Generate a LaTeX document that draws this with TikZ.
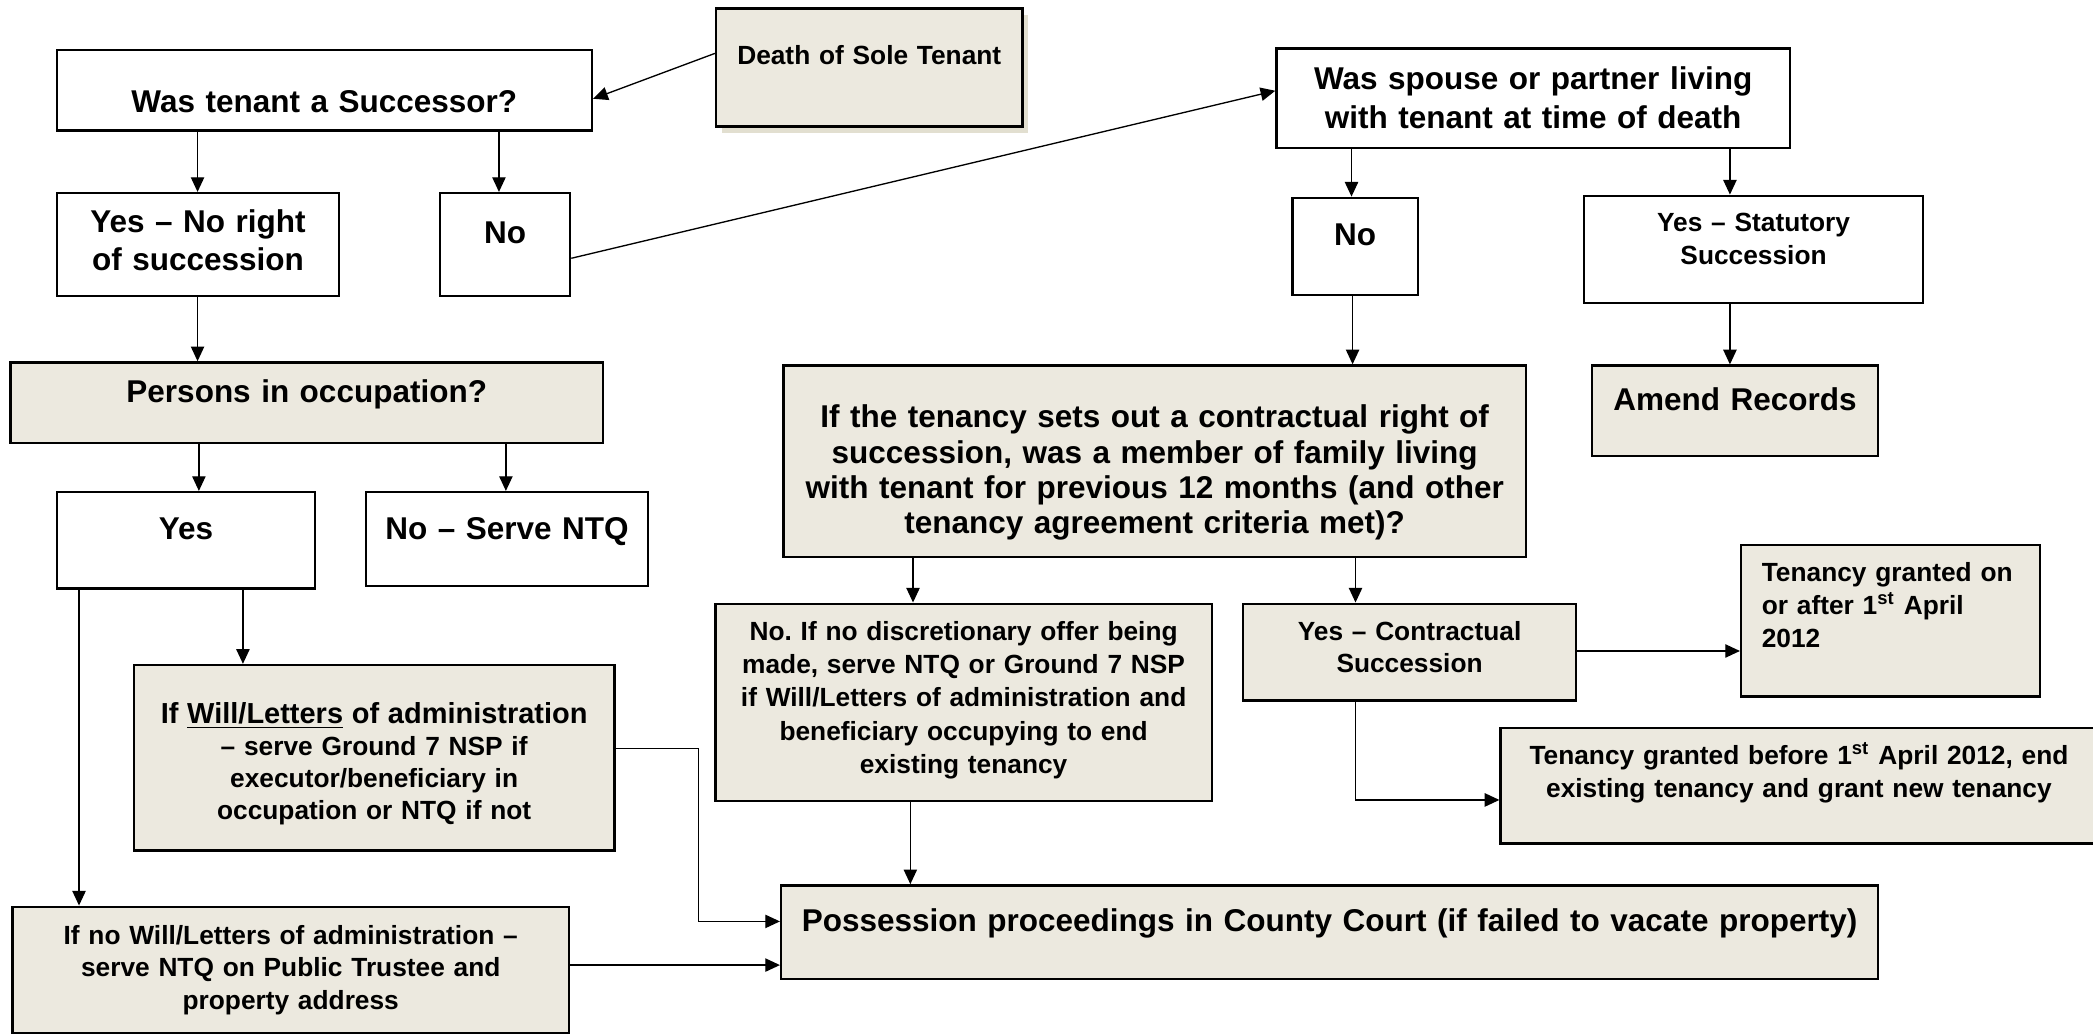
\documentclass[tikz,border=0pt]{standalone}
\usepackage{fontspec}
\setmainfont{Liberation Sans}
\usetikzlibrary{arrows.meta,shadows}
\definecolor{boxfill}{RGB}{236,233,223}
\definecolor{shadowfill}{RGB}{226,223,208}
\frenchspacing

\begin{document}
\begin{tikzpicture}[x=0.5pt, y=-0.5pt,
	box/.style={draw, rectangle, line width=0.9pt, anchor=north west, inner xsep=2pt, inner ysep=0pt, align=center},
	greybox/.style={box, fill=boxfill},
	bigtext/.style={font=\bfseries\fontsize{11.8}{14.5}\selectfont},
	smalltext/.style={font=\bfseries\fontsize{9.85}{12.4}\selectfont},
	arr/.style={->, >={Triangle[length=5.5pt, width=5pt]}, line width=0.5pt}]
				\useasboundingbox (0,0) rectangle (1568,774);
				% top row
				\node[greybox, smalltext, drop shadow={shadow xshift=2.3pt, shadow yshift=-2.3pt, fill=shadowfill, opacity=1}, text width=110.7pt, text height=21pt, text depth=23.25pt] (death)at(535.6, 5.5) {Death of Sole Tenant};
				\node[box, bigtext, text width=196.5pt, text height=23.5pt, text depth=6.6pt] (succ)at(41.6, 36.7) {Was tenant a Successor?};
				\node[box, text width=101.5pt, text height=14.85pt, text depth=23.75pt, font=\bfseries\fontsize{11.8}{14.15}\selectfont] (yesright)at(42, 143.8) {Yes – No right\\of succession};
				\node[box, bigtext, text width=44.7pt, text height=18.85pt, text depth=19.75pt] (no1)at(328.8, 143.8) {No};
				\node[box, text width=188.3pt, text height=15.35pt, text depth=21.9pt, font=\bfseries\fontsize{11.8}{14.7}\selectfont] (spouse)at(955.4, 35.5) {Was spouse or partner living\\with tenant at time of death};
				\node[box, bigtext, text width=42.9pt, text height=17.85pt, text depth=18.6pt] (no2)at(967.4, 147.3) {No};
				\node[box, text width=123pt, text height=13.25pt, text depth=26.85pt, font=\bfseries\fontsize{9.85}{12.5}\selectfont] (yesstat)at(1185.8, 145.8) {Yes – Statutory\\Succession};
				\node[greybox, bigtext, text width=103.1pt, text height=16.8pt, text depth=17.1pt] (amend)at(1191.8, 273) {Amend Records};
				% middle
				\node[greybox, text width=274.15pt, text height=23.35pt, text depth=48.45pt, font=\bfseries\fontsize{11.8}{13.2}\selectfont] (contract)at(586, 272.9) {If the tenancy sets out a contractual right of\\succession, was a member of family living\\with tenant for previous 12 months (and other\\tenancy agreement criteria met)?};
				\node[greybox, bigtext, text width=218pt, text height=15.2pt, text depth=15pt] (persons)at(6.9, 270.6) {Persons in occupation?};
				\node[box, bigtext, text width=92.5pt, text height=17.9pt, text depth=18.2pt] (yes)at(42, 367.8) {Yes};
				\node[box, bigtext, text width=101.65pt, text height=17.9pt, text depth=17.2pt] (noserve)at(273.3, 367.8) {No – Serve NTQ};
				\node[greybox, font=\bfseries\fontsize{9.85}{12}\selectfont, text width=176pt, text height=21.85pt, text depth=47.65pt] (ifwill)at(99.4, 497.3) {{\fontsize{10.85}{12}\selectfont If \underline{Will/Letters} of administration}\\– serve Ground 7 NSP if\\executor/beneficiary in\\occupation or NTQ if not};
				\node[greybox, font=\bfseries\fontsize{9.85}{12.15}\selectfont, text width=204.5pt, text height=14.05pt, text depth=33.25pt] (ifnowill)at(8.4, 678.4) {If no Will/Letters of administration –\\serve NTQ on Public Trustee and\\property address};
				\node[greybox, text width=182pt, text height=13.65pt, text depth=60.15pt, font=\bfseries\fontsize{9.85}{12.5}\selectfont] (nodisc)at(535, 451.4) {No. If no discretionary offer being\\made, serve NTQ or Ground 7 NSP\\if Will/Letters of administration and\\beneficiary occupying to end\\existing tenancy};
				\node[greybox, text width=120.7pt, text height=13.65pt, text depth=22.55pt, font=\bfseries\fontsize{9.85}{12.25}\selectfont] (yescontract)at(930.4, 451.4) {Yes – Contractual\\Succession};
				\node[greybox, align=left, inner xsep=7.75pt, text width=96.5pt, text height=13.5pt, text depth=43.25pt, font=\bfseries\fontsize{9.85}{12.5}\selectfont] (after)at(1303.5, 407.5) {Tenancy granted on\\or after 1\textsuperscript{st} April\\2012};
				\node[greybox, text width=219.5pt, text height=13.65pt, text depth=29.7pt, font=\bfseries\fontsize{9.85}{12.5}\selectfont] (before)at(1123.3, 544.3) {Tenancy granted before 1\textsuperscript{st} April 2012, end\\existing tenancy and grant new tenancy};
				\node[greybox, bigtext, text width=406.85pt, text height=17.1pt, text depth=17.9pt] (poss)at(584.3, 662.4) {Possession proceedings in County Court (if failed to vacate property)};
				% connectors
				\draw[arr] (death.west |- 0,40) -- (succ.east |- 0,74);
				\draw[arr] (succ.south -| 148,0) -- (yesright.north -| 148,0);
				\draw[arr] (succ.south -| 373.8,0) -- (no1.north -| 373.8,0);
				\draw[arr] (no1.east |- 0,193.5) -- (spouse.west |- 0,68);
				\draw[arr] (spouse.south -| 1012.5,0) -- (no2.north -| 1012.5,0);
				\draw[arr] (spouse.south -| 1296,0) -- (yesstat.north -| 1296,0);
				\draw[arr] (no2.south -| 1013.3,0) -- (contract.north -| 1013.3,0);
				\draw[arr] (yesstat.south -| 1296,0) -- (amend.north -| 1296,0);
				\draw[arr] (yesright.south -| 148,0) -- (persons.north -| 148,0);
				\draw[arr] (persons.south -| 149,0) -- (yes.north -| 149,0);
				\draw[arr] (persons.south -| 379,0) -- (noserve.north -| 379,0);
				\draw[arr] (yes.south -| 182,0) -- (ifwill.north -| 182,0);
				\draw[arr] (yes.south -| 59.2,0) -- (ifnowill.north -| 59.2,0);
				\draw[arr] (ifwill.east |- 0,560.8) -- ++(62.3,0) |- (poss.west |- 0,690.3);
				\draw[arr] (ifnowill.east |- 0,723) -- (poss.west |- 0,723);
				\draw[arr] (contract.south -| 684,0) -- (nodisc.north -| 684,0);
				\draw[arr] (contract.south -| 1015.5,0) -- (yescontract.north -| 1015.5,0);
				\draw[arr] (nodisc.south -| 682,0) -- (poss.north -| 682,0);
				\draw[arr] (yescontract.east |- 0,487.7) -- (after.west |- 0,487.7);
				\draw[arr] (yescontract.south -| 1015.5,0) |- (before.west |- 0,599.3);
			\end{tikzpicture}
\end{document}
